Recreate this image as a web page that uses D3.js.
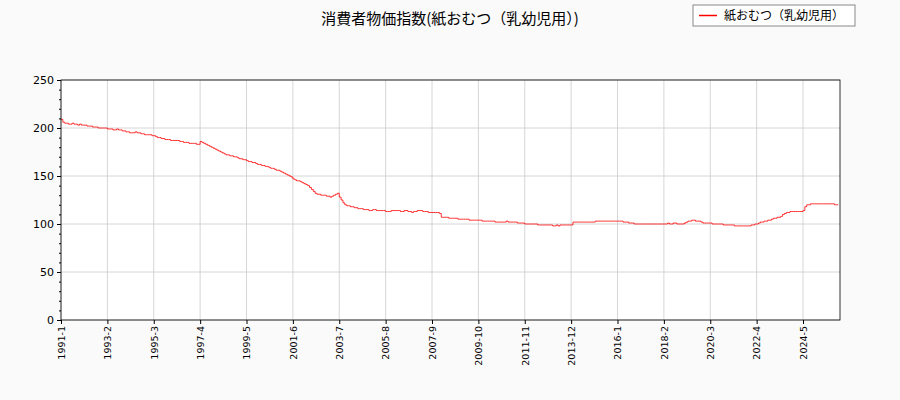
<!DOCTYPE html>
<html><head><meta charset="utf-8">
<script src="https://cdn.jsdelivr.net/npm/d3@7"></script>
<style>body{margin:0;background:#fafafa;font-family:"Noto Sans CJK JP","DejaVu Sans",sans-serif}</style>
</head><body><svg id="c" width="900" height="400"></svg>
<script>
const title = "消費者物価指数(紙おむつ（乳幼児用）)";
const seriesName = "紙おむつ（乳幼児用）";
const startYear = 1991;
const yTicks = [0,50,100,150,200,250];
const xTickLabels = ["1991-1","1993-2","1995-3","1997-4","1999-5","2001-6","2003-7","2005-8","2007-9","2009-10","2011-11","2013-12","2016-1","2018-2","2020-3","2022-4","2024-5"];
const values = [
209,206,205,205,204,204,205,204,204,203,204,203,
203,203,202,202,202,201,201,201,200,200,200,200,
200,199,199,199,198,198,199,198,198,197,197,196,
196,195,195,195,196,195,195,194,194,193,193,193,
193,192,192,191,190,190,189,189,188,188,188,187,
187,187,187,187,186,186,185,185,185,184,184,184,
184,183,183,186,185,184,183,182,181,180,179,178,
177,176,175,174,173,172,172,171,171,170,170,169,
168,168,167,167,166,165,165,164,164,163,162,162,
161,161,160,160,159,158,158,157,156,156,155,154,
153,152,151,150,149,147,146,145,145,144,143,142,
141,140,138,136,134,132,131,131,130,130,130,129,
129,128,129,130,131,132,128,125,122,120,119,119,
118,118,117,117,116,116,116,115,115,115,114,114,
115,115,114,114,114,114,114,113,113,113,114,114,
114,114,114,113,113,114,114,113,113,112,113,113,
114,114,114,113,113,113,112,112,112,112,112,112,
111,107,107,107,107,106,106,106,106,106,105,105,
105,105,105,105,104,104,104,104,104,104,104,103,
103,103,103,103,103,103,102,102,102,102,102,102,
103,102,102,102,102,102,101,101,101,101,100,100,
100,100,100,100,100,99,99,99,99,99,99,99,
99,98,98,99,98,99,99,99,99,99,99,99,
102,102,102,102,102,102,102,102,102,102,102,102,
103,103,103,103,103,103,103,103,103,103,103,103,
103,103,103,102,102,102,101,101,101,100,100,100,
100,100,100,100,100,100,100,100,100,100,100,100,
100,100,100,101,100,100,101,101,100,100,100,100,
101,102,103,103,104,104,103,103,103,102,101,101,
101,101,101,100,100,100,100,100,100,99,99,99,
99,99,99,98,98,98,98,98,98,98,98,98,
99,99,100,100,101,102,102,103,103,104,104,105,
106,106,107,107,108,110,111,112,112,113,113,113,
113,113,113,113,114,118,120,120,121,121,121,121,
121,121,121,121,121,121,121,121,121,120,120,120];
const labels = values.map((v,i)=>`${startYear+Math.floor(i/12)}-${i%12+1}`);
const svg = d3.select("#c");
const L=61,R=840,T=80,B=320;
svg.append("rect").attr("x",L).attr("y",T).attr("width",R-L).attr("height",B-T).attr("fill","#fff");
const x = d3.scalePoint().domain(labels).range([L,L+1.855*(labels.length-1)]);
const y = d3.scaleLinear().domain([0,250]).range([B,T]);
const g = svg.append("g");
xTickLabels.forEach(t=>g.append("line").attr("x1",x(t)).attr("x2",x(t)).attr("y1",T).attr("y2",B).attr("stroke","#ccc").attr("stroke-width",0.8));
yTicks.forEach(t=>g.append("line").attr("x1",L).attr("x2",R).attr("y1",y(t)).attr("y2",y(t)).attr("stroke","#ccc").attr("stroke-width",0.8));
svg.append("path").datum(values).attr("fill","none").attr("stroke","red").attr("stroke-width",0.8)
 .attr("d",d3.line().x((d,i)=>x(labels[i])).y(d=>y(d)).curve(d3.curveStepAfter));
svg.append("rect").attr("x",L).attr("y",T).attr("width",R-L).attr("height",B-T).attr("fill","none").attr("stroke","#000").attr("stroke-width",0.8);
const ya = svg.append("g").attr("transform",`translate(${L},0)`).call(d3.axisLeft(y).tickValues(yTicks).tickSize(4));
ya.selectAll("text").attr("font-size",11).attr("font-family","DejaVu Sans").attr("fill","#000");
ya.select(".domain").remove();
svg.append("g").attr("transform",`translate(${L},0)`).call(d3.axisLeft(y).tickValues(d3.range(0,251,10)).tickSize(2).tickFormat("")).select(".domain").remove();
const xa = svg.append("g").attr("transform",`translate(0,${B})`).call(d3.axisBottom(x).tickValues(xTickLabels).tickSize(4));
xa.select(".domain").remove();
xa.selectAll("text").attr("font-size",9.5).attr("font-family","DejaVu Sans").attr("fill","#000")
 .attr("transform","rotate(-90)").attr("text-anchor","end").attr("dx",0).attr("dy","0.35em").attr("x",-6).attr("y",0);
svg.append("text").attr("x",450).attr("y",24).attr("text-anchor","middle").attr("font-size",15).text(title);
svg.append("rect").attr("x",693).attr("y",5).attr("width",162).attr("height",21).attr("fill","#fff").attr("stroke","#888");
svg.append("line").attr("x1",699).attr("x2",717).attr("y1",15.5).attr("y2",15.5).attr("stroke","red").attr("stroke-width",1.5);
svg.append("text").attr("x",724).attr("y",20).attr("font-size",12).text(seriesName);
</script></body></html>
